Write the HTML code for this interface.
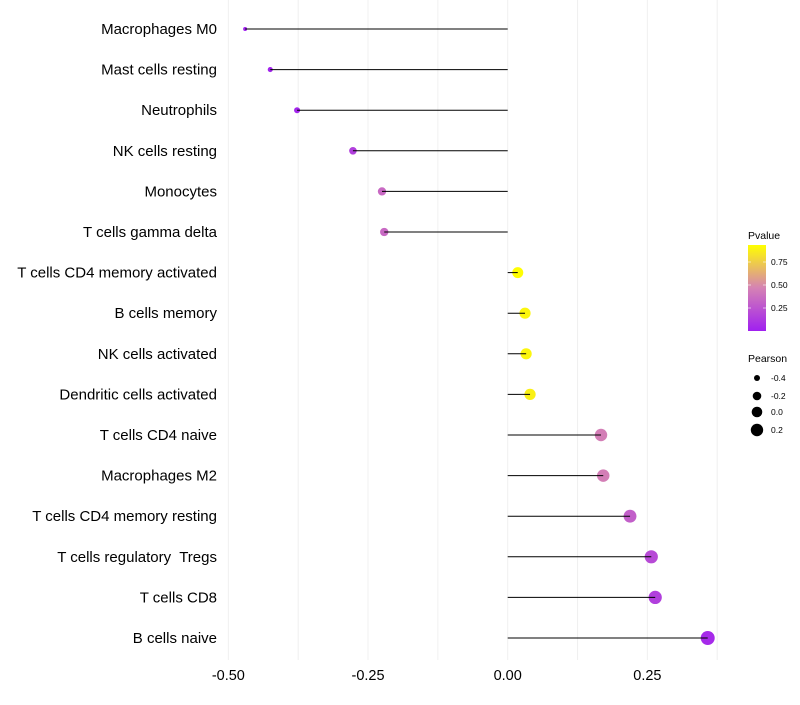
<!DOCTYPE html>
<html><head><meta charset="utf-8"><style>
body{margin:0;background:#fff;font-family:"Liberation Sans",sans-serif}
text{white-space:pre}
</style></head><body>
<svg id="chart" width="800" height="700">
<defs><linearGradient id="pg" x1="0" y1="1" x2="0" y2="0">
<stop offset="0" stop-color="#a020f0"/><stop offset="0.5" stop-color="#d582b4"/><stop offset="1" stop-color="#ffff00"/></linearGradient></defs>
<g id="grid"></g><g id="marks"></g><g id="labels"></g>
<g>
<text x="748" y="239" font-size="10.5" fill="#000">Pvalue</text>
<rect x="748" y="245" width="18" height="86" fill="url(#pg)"/>
<g stroke="#fff" stroke-opacity="0.6"><line x1="748" y1="262" x2="751" y2="262"/><line x1="763" y1="262" x2="766" y2="262"/><line x1="748" y1="285" x2="751" y2="285"/><line x1="763" y1="285" x2="766" y2="285"/><line x1="748" y1="308" x2="751" y2="308"/><line x1="763" y1="308" x2="766" y2="308"/></g>
<text x="771" y="265" font-size="8.5">0.75</text><text x="771" y="288" font-size="8.5">0.50</text><text x="771" y="311" font-size="8.5">0.25</text>
</g>
<g>
<text x="748" y="362" font-size="10.5">Pearson</text>
<circle cx="757" cy="378" r="3"/><text x="771" y="381" font-size="8.5">-0.4</text>
<circle cx="757" cy="396" r="4.3"/><text x="771" y="399" font-size="8.5">-0.2</text>
<circle cx="757" cy="412" r="5.3"/><text x="771" y="415" font-size="8.5">0.0</text>
<circle cx="757" cy="430" r="6.2"/><text x="771" y="433" font-size="8.5">0.2</text>
</g>
</svg>
<script>
const categories=["Macrophages M0","Mast cells resting","Neutrophils","NK cells resting","Monocytes","T cells gamma delta","T cells CD4 memory activated","B cells memory","NK cells activated","Dendritic cells activated","T cells CD4 naive","Macrophages M2","T cells CD4 memory resting","T cells regulatory  Tregs","T cells CD8","B cells naive"];
const pearson=[-0.470,-0.425,-0.377,-0.277,-0.225,-0.221,0.018,0.031,0.033,0.040,0.167,0.171,0.219,0.257,0.264,0.358];
const pvalues=[0.01,0.02,0.03,0.15,0.35,0.35,0.93,0.9,0.9,0.88,0.45,0.45,0.3,0.2,0.15,0.05];
const xTicks=[-0.5,-0.25,0,0.25];
const xTickLabels=["-0.50","-0.25","0.00","0.25"];
const xGrid=[-0.5,-0.375,-0.25,-0.125,0,0.125,0.25,0.375];
const NS="http://www.w3.org/2000/svg";
const x=v=>507.7+v*558.7;
const y=i=>29+i*40.6;
function col(p){const t=Math.min(1,Math.max(0,p/0.935));
const a=[160,32,240],m=[213,130,180],b=[255,255,0];let c;
if(t<0.5){const s=t/0.5;c=a.map((v,k)=>Math.round(v+(m[k]-v)*s));}else{const s=(t-0.5)/0.5;c=m.map((v,k)=>Math.round(v+(b[k]-v)*s));}
return `rgb(${c.join(",")})`;}
const rad=v=>Math.sqrt(Math.max(1,4+(v+0.47)*54.3));
function mk(t,at,parent){const e=document.createElementNS(NS,t);for(const k in at)e.setAttribute(k,at[k]);parent.appendChild(e);return e;}
const g=document.getElementById('grid'),mg=document.getElementById('marks'),lg=document.getElementById('labels');
xGrid.forEach(v=>{const l=mk('line',{x1:x(v),x2:x(v),y1:0,y2:660,stroke:'#f0f0f0','stroke-width':1},g);

});
xTicks.forEach((v,i)=>{const t=mk('text',{x:x(v),y:680,'font-size':14.5,'text-anchor':'middle',fill:'#000'},lg);t.textContent=xTickLabels[i];

});
categories.forEach((c,i)=>{
const t=mk('text',{x:217,y:y(i)+5,'font-size':15,'text-anchor':'end',fill:'#000'},lg);t.textContent=c;


const p=mk('circle',{cx:x(pearson[i]),cy:y(i),r:rad(pearson[i]),fill:col(pvalues[i])},mg);


const l=mk('line',{x1:x(0),x2:x(pearson[i]),y1:y(i),y2:y(i),stroke:'#000','stroke-width':1},mg);


});
</script>
</body></html>
